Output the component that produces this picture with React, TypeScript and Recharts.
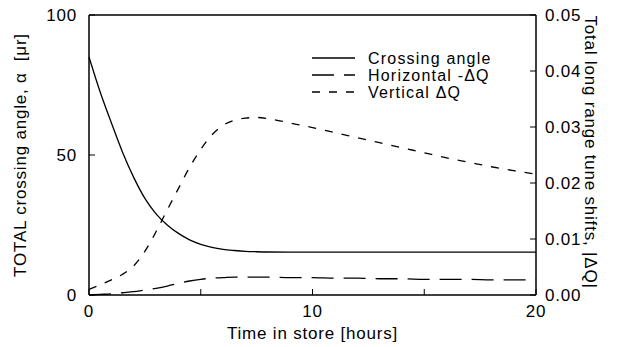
import React from 'react';
import { ComposedChart, Line, XAxis, YAxis, ReferenceLine, Legend } from 'recharts';

const times = [0, 0.5, 1, 1.5, 2, 2.5, 3, 3.5, 4, 4.5, 5, 5.5, 6, 6.5, 7, 7.5, 8, 9, 10, 11, 12, 13, 14, 15, 16, 17, 18, 19, 20];
const crossingAngle = [85, 72.5, 61.5, 51, 42, 34.5, 29, 25, 22, 19.7, 18.1, 17, 16.3, 15.9, 15.6, 15.45, 15.35, 15.3, 15.3, 15.3, 15.3, 15.3, 15.3, 15.3, 15.3, 15.3, 15.3, 15.3, 15.3];
const horizontalDQ = [0, 0.0001, 0.0002, 0.0004, 0.0006, 0.0009, 0.0012, 0.0016, 0.0021, 0.0025, 0.0028, 0.003, 0.0031, 0.0032, 0.0032, 0.0032, 0.0032, 0.0031, 0.0031, 0.003, 0.003, 0.0029, 0.0029, 0.0028, 0.0028, 0.0028, 0.0027, 0.0027, 0.0027];
const verticalDQ = [0.001, 0.0018, 0.0027, 0.0037, 0.0052, 0.0078, 0.0113, 0.0152, 0.019, 0.0228, 0.026, 0.0286, 0.0303, 0.0312, 0.0316, 0.0317, 0.0315, 0.0307, 0.0299, 0.029, 0.0281, 0.0272, 0.0263, 0.0254, 0.0245, 0.0237, 0.0229, 0.0222, 0.0216];

const xTicks = [0, 5, 10, 15, 20];
const xTickLabels = [0, 10, 20];
const leftTicks = [0, 50, 100];
const rightTicks = [0, 0.01, 0.02, 0.03, 0.04, 0.05];

const seriesNames = ['Crossing angle', 'Horizontal -\u0394Q', 'Vertical \u0394Q'];

const data = times.map((t, i) => ({
  t,
  alpha: crossingAngle[i],
  h: horizontalDQ[i],
  v: verticalDQ[i],
}));

const FONT = '"Liberation Sans", Arial, Helvetica, sans-serif';
const textStyle = { fontFamily: FONT, fontSize: 17, letterSpacing: 0.8, fill: '#000' };
const legendTextStyle = { fontFamily: FONT, fontSize: 16, letterSpacing: 1.2, fill: '#000' };

const dashes = ['', '22 10', '8 9'];

const LegendContent = () => (
  <svg width={240} height={60} style={{ display: 'block' }}>
    {seriesNames.map((name, i) => (
      <g key={name}>
        <line x1={0} x2={43} y1={8 + i * 17} y2={8 + i * 17} stroke="#000" strokeWidth={1.3} strokeDasharray={dashes[i]} />
        <text x={56} y={8 + i * 17} dy="0.355em" style={legendTextStyle}>{name}</text>
      </g>
    ))}
  </svg>
);

export default function App() {
  return (
    <div style={{ position: 'absolute', left: 0, top: 0, width: 621, height: 347, background: '#fff' }}>
      <ComposedChart width={621} height={347} data={data} margin={{ top: 15, right: 0, bottom: 0, left: 0 }}>
        <XAxis
          dataKey="t"
          type="number"
          domain={[0, 20]}
          ticks={xTicks}
          tickFormatter={(v: number) => (xTickLabels.includes(v) ? String(v) : '')}
          tickSize={-6}
          tickMargin={16}
          height={52}
          axisLine={{ stroke: '#000', strokeWidth: 1.5 }}
          tickLine={{ stroke: '#000', strokeWidth: 1 }}
          tick={textStyle}
          label={{
            content: (props: any) => {
              const vb = props.viewBox;
              return (
                <text x={vb.x + vb.width / 2} y={vb.y + 38} textAnchor="middle" dy="0.355em" style={textStyle}>
                  Time in store [hours]
                </text>
              );
            },
          }}
        />
        <YAxis
          yAxisId="left"
          orientation="left"
          domain={[0, 100]}
          ticks={leftTicks}
          width={89}
          tickSize={-6}
          tickMargin={18}
          axisLine={{ stroke: '#000', strokeWidth: 1.5 }}
          tickLine={{ stroke: '#000', strokeWidth: 1 }}
          tick={textStyle}
          label={{
            content: (props: any) => {
              const vb = props.viewBox;
              const cx = vb.x + 20;
              const cy = vb.y + vb.height / 2;
              return (
                <text x={cx} y={cy} textAnchor="middle" dy="0.355em" transform={`rotate(-90, ${cx}, ${cy})`} style={textStyle}>
                  {'TOTAL crossing angle, \u03B1\u00A0 [\u03BCr]'}
                </text>
              );
            },
          }}
        />
        <YAxis
          yAxisId="right"
          orientation="right"
          domain={[0, 0.05]}
          ticks={rightTicks}
          width={85}
          tickSize={-6}
          tickMargin={15}
          tickFormatter={(v: number) => v.toFixed(2)}
          axisLine={{ stroke: '#000', strokeWidth: 1.5 }}
          tickLine={{ stroke: '#000', strokeWidth: 1 }}
          tick={textStyle}
          label={{
            content: (props: any) => {
              const vb = props.viewBox;
              const cx = vb.x + 55;
              const cy = vb.y + vb.height / 2 - 3;
              return (
                <text x={cx} y={cy} textAnchor="middle" dy="0.355em" transform={`rotate(90, ${cx}, ${cy})`} style={textStyle}>
                  {'Total long range tune shifts, |\u0394Q|'}
                </text>
              );
            },
          }}
        />
        <ReferenceLine yAxisId="left" y={100} stroke="#000" strokeWidth={1.5} />
        <Legend
          layout="horizontal"
          verticalAlign="middle"
          align="center"
          wrapperStyle={{ position: 'absolute', left: 312, top: 50, width: 240, height: 60 }}
          content={<LegendContent />}
        />
        <Line yAxisId="left" type="monotone" dataKey="alpha" name={seriesNames[0]} stroke="#000" strokeWidth={1.3} dot={false} isAnimationActive={false} />
        <Line yAxisId="right" type="monotone" dataKey="h" name={seriesNames[1]} stroke="#000" strokeWidth={1.3} strokeDasharray={dashes[1]} dot={false} isAnimationActive={false} />
        <Line yAxisId="right" type="monotone" dataKey="v" name={seriesNames[2]} stroke="#000" strokeWidth={1.3} strokeDasharray={dashes[2]} dot={false} isAnimationActive={false} />
      </ComposedChart>
    </div>
  );
}
